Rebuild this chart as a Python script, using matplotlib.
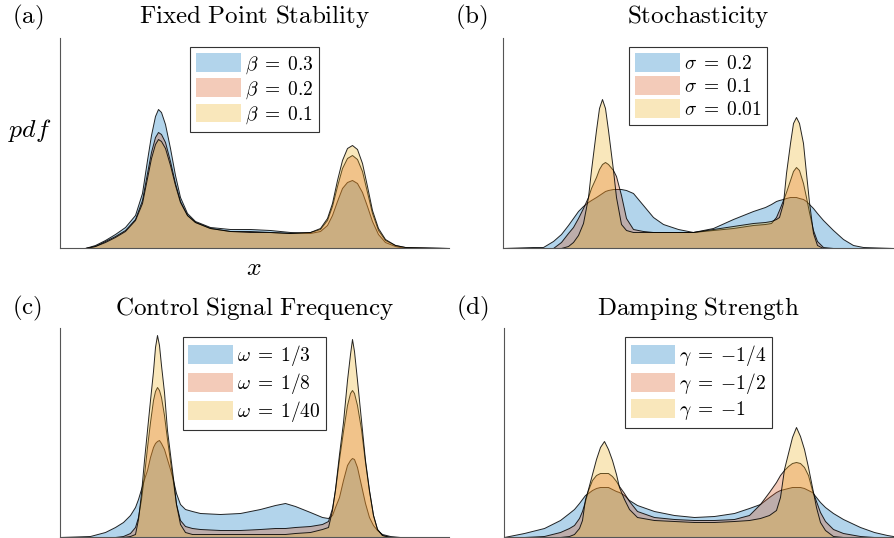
"""
density comparison panels (a)-(d)
"""

import matplotlib
matplotlib.use("Agg")
import matplotlib.pyplot as plt
from matplotlib.patches import Patch
from matplotlib.colors import to_rgba

plt.rcParams['mathtext.fontset'] = 'cm'

# MATLAB default colour order
colors = [(0.0, 0.447, 0.741), (0.850, 0.325, 0.098), (0.929, 0.694, 0.125)]
face_alpha = 0.3

# Data (x: offset along axis, y: height of pdf)

# (a) Fixed Point Stability
x_a = [0, 25, 35, 45, 55, 65, 75, 82, 87, 91, 95, 98, 101, 105, 110, 115, 120,
       127, 135, 150, 170, 190, 210, 230, 250, 260, 267, 272, 277, 282, 287,
       292, 297, 302, 307, 312, 318, 325, 335, 345, 389]
a_beta03 = [0, 0, 3, 8, 14, 21, 33, 55, 88, 113, 132, 139, 136, 124, 100, 73, 51,
            35, 27, 21, 19, 19, 18, 16, 15, 17, 23, 33, 47, 60, 66,
            68, 65, 56, 42, 27, 14, 6, 2, 0, 0]
a_beta02 = [0, 0, 2, 7, 12, 18, 29, 48, 75, 96, 111, 116, 114, 106, 87, 65, 47,
            33, 26, 20, 17, 17, 16, 15, 16, 19, 28, 42, 62, 80, 90,
            93, 89, 77, 56, 35, 18, 8, 3, 1, 0]
a_beta01 = [0, 0, 2, 6, 11, 17, 28, 45, 70, 90, 104, 109, 107, 100, 83, 63, 46,
            33, 26, 20, 17, 16, 16, 15, 16, 20, 30, 45, 68, 88, 100,
            103, 99, 85, 62, 38, 20, 9, 3, 1, 0]
a_labels = [r'$\beta\;=\;0.3$', r'$\beta\;=\;0.2$', r'$\beta\;=\;0.1$']

# (b) Stochasticity
x_b = [0, 30, 40, 50, 58, 65, 70, 75, 80, 85, 88, 93, 96, 99, 102, 105, 110,
       113, 118, 123, 130, 140, 150, 160, 175, 190, 210, 230, 250, 262, 268,
       273, 276, 280, 283, 287, 290, 293, 296, 300, 303, 306, 310, 314, 320,
       330, 340, 350, 360, 390]
b_sig02 = [0, 1, 1, 7, 14, 23, 30, 37, 42, 46, 48, 51, 53, 55, 57, 58, 59,
           59, 59, 58, 55, 43, 31, 24, 19, 16, 20, 29, 37, 41, 44,
           47, 48, 49, 50, 51, 51, 51, 50, 49, 47, 44, 40, 35, 28,
           18, 9, 3, 1, 0]
b_sig01 = [0, 0, 0, 0, 6, 15, 21, 30, 40, 51, 60, 71, 79, 84, 86, 84, 78,
           72, 53, 30, 19, 17, 16, 16, 16, 16, 18, 20, 23, 24, 25,
           31, 38, 48, 56, 68, 77, 81, 78, 65, 51, 36, 18, 7, 1,
           0, 0, 0, 0, 0]
b_sig001 = [0, 0, 0, 0, 0, 2, 6, 13, 25, 51, 78, 118, 140, 149, 140, 118, 78,
            51, 24, 18, 16, 16, 16, 16, 16, 16, 19, 22, 25, 26, 27,
            29, 31, 45, 75, 105, 125, 131, 125, 105, 75, 46, 15, 3, 0,
            0, 0, 0, 0, 0]
b_labels = [r'$\sigma\;=\;0.2$', r'$\sigma\;=\;0.1$', r'$\sigma\;=\;0.01$']

# (c) Control Signal Frequency
x_c = [0, 30, 45, 55, 63, 70, 75, 78, 81, 84, 87, 90, 93, 95, 97, 99, 101,
       104, 107, 110, 113, 116, 120, 125, 132, 140, 160, 180, 200, 215, 225,
       235, 250, 262, 268, 272, 275, 279, 283, 287, 290, 292, 294, 297, 301,
       305, 309, 313, 317, 322, 330, 340, 389]
c_om3 = [0, 1, 5, 10, 15, 22, 30, 38, 48, 58, 67, 80, 90, 94, 96, 97, 94,
         88, 78, 68, 57, 44, 33, 28, 26, 24, 23, 24, 28, 32, 34,
         31, 25, 20, 19, 22, 30, 40, 57, 72, 77, 79, 78, 70, 52,
         34, 20, 12, 7, 3, 1, 0, 0]
c_om8 = [0, 0, 0, 0, 1, 4, 10, 20, 38, 62, 90, 115, 137, 146, 150, 147, 140,
         122, 98, 76, 55, 33, 17, 11, 9, 8, 7, 7, 8, 9, 9,
         10, 11, 13, 16, 29, 47, 78, 106, 132, 144, 147, 144, 132, 108,
         75, 46, 22, 8, 2, 0, 0, 0]
c_om40 = [0, 0, 0, 0, 0, 1, 3, 18, 44, 77, 107, 137, 166, 190, 202, 192, 172,
          145, 107, 83, 59, 33, 13, 5, 3, 3, 3, 3, 3, 3, 3,
          4, 5, 8, 10, 27, 48, 83, 115, 157, 183, 198, 186, 157, 117,
          77, 47, 22, 8, 2, 0, 0, 0]
c_labels = [r'$\omega\;=\;1/3$', r'$\omega\;=\;1/8$', r'$\omega\;=\;1/40$']

# (d) Damping Strength
x_d = [0, 20, 40, 56, 65, 70, 75, 78, 81, 84, 88, 92, 96, 100, 104, 108, 112,
       115, 120, 125, 133, 150, 170, 190, 210, 230, 245, 256, 265, 272, 276,
       280, 284, 288, 292, 296, 300, 304, 308, 312, 316, 321, 329, 339, 356,
       370, 383, 389]
d_gam4 = [0, 4, 9, 17, 24, 28, 34, 38, 42, 44, 47, 49, 50, 50, 50, 48, 46,
          45, 42, 37, 32, 26, 22, 20, 21, 24, 29, 33, 40, 45, 47,
          48, 49, 50, 50, 50, 49, 47, 45, 40, 35, 30, 24, 18, 10,
          5, 2, 1]
d_gam2 = [0, 0, 1, 5, 9, 12, 19, 26, 36, 47, 57, 62, 64, 64, 64, 61, 56,
          51, 44, 36, 26, 20, 18, 17, 17, 18, 22, 33, 45, 55, 62,
          67, 71, 74, 75, 74, 70, 62, 47, 36, 25, 16, 8, 4, 1,
          0, 0, 0]
d_gam1 = [0, 0, 0, 0, 1, 3, 9, 17, 38, 48, 63, 78, 90, 96, 88, 77, 63,
          50, 38, 28, 20, 17, 16, 15, 15, 16, 17, 19, 22, 27, 40,
          68, 84, 100, 110, 101, 88, 70, 50, 30, 15, 7, 1, 0, 0,
          0, 0, 0]
d_labels = [r'$\gamma\;=\;{-1/4}$', r'$\gamma\;=\;{-1/2}$', r'$\gamma\;=\;{-1}$']

titles = ['Fixed Point Stability', 'Stochasticity',
          'Control Signal Frequency', 'Damping Strength']
tags = ['(a)', '(b)', '(c)', '(d)']

# axes rectangles in pixels (left, right, top, bottom)
W, H = 894, 538
boxes = [(60, 449, 38, 248), (503, 893, 38, 248),
         (60, 449, 328, 537), (504, 893, 328, 537)]


def draw_panel(ax, x, series, labels):
    for y, c in zip(series, colors):
        ax.fill_between(x, y, 0, facecolor=to_rgba(c, face_alpha),
                        edgecolor=(0, 0, 0, 0.85), linewidth=0.7)
    handles = [Patch(facecolor=to_rgba(c, face_alpha), edgecolor='none')
               for c in colors]
    leg = ax.legend(handles, labels, loc='upper center',
                    bbox_to_anchor=(0.5, 0.955), fontsize=14,
                    handlelength=2.3, handleheight=1.1, labelspacing=0.15,
                    handletextpad=0.2, borderpad=0.3, fancybox=False,
                    framealpha=1, borderaxespad=0)
    leg.get_frame().set_edgecolor('#333333')
    leg.get_frame().set_linewidth(0.8)
    ax.set_xlim(0, x[-1])
    for s in ['top', 'right']:
        ax.spines[s].set_visible(False)
    for s in ['left', 'bottom']:
        ax.spines[s].set_color('#555555')
        ax.spines[s].set_linewidth(0.8)
    ax.set_xticks([])
    ax.set_yticks([])


fig = plt.figure(figsize=(W / 100, H / 100), dpi=100)
data = [(x_a, [a_beta03, a_beta02, a_beta01], a_labels),
        (x_b, [b_sig02, b_sig01, b_sig001], b_labels),
        (x_c, [c_om3, c_om8, c_om40], c_labels),
        (x_d, [d_gam4, d_gam2, d_gam1], d_labels)]

for i, ((x0, x1, y0, y1), (x, series, labels)) in enumerate(zip(boxes, data)):
    ax = fig.add_axes([x0 / W, 1 - y1 / H, (x1 - x0) / W, (y1 - y0) / H])
    draw_panel(ax, x, series, labels)
    ax.set_ylim(0, y1 - y0)
    ty = 17 if i < 2 else 308
    fig.text((x0 + x1) / 2 / W, 1 - ty / H, r'$\mathrm{%s}$' % titles[i].replace(' ', r'\ '),
             ha='center', va='center', fontsize=18)
    fig.text((x0 - 48) / W, 1 - ty / H, r'$\mathrm{%s}$' % tags[i],
             ha='left', va='center', fontsize=18)

fig.text(30 / W, 1 - 130 / H, r'$pdf$', ha='center', va='center', fontsize=18.5)
fig.text(254 / W, 1 - 268 / H, r'$x$', ha='center', va='center', fontsize=18.5)

fig.savefig("out.png", dpi=100)
